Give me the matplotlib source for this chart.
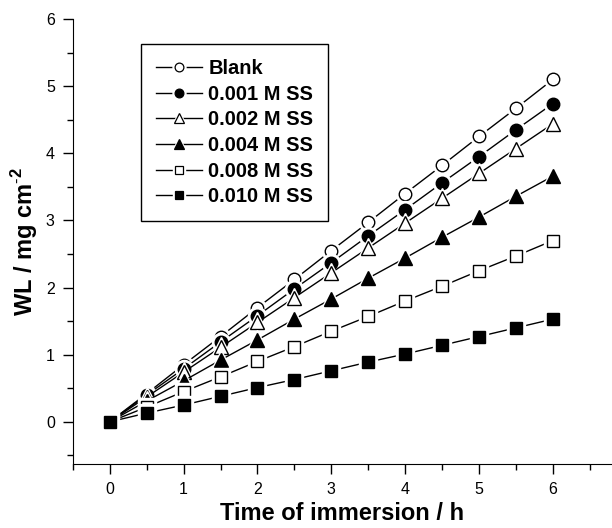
import numpy as np
import matplotlib
matplotlib.use('Agg')
import matplotlib.pyplot as plt
from matplotlib.lines import Line2D
from matplotlib.legend_handler import HandlerTuple
from matplotlib.ticker import MultipleLocator

plt.rcParams['font.family'] = ['Liberation Sans', 'DejaVu Sans']
plt.rcParams['mathtext.fontset'] = 'custom'
plt.rcParams['mathtext.rm'] = 'Liberation Sans'
plt.rcParams['mathtext.bf'] = 'Liberation Sans:bold'

# time of immersion (h)
hours = [0, 0.5, 1, 1.5, 2, 2.5, 3, 3.5, 4, 4.5, 5, 5.5, 6]

# weight loss (mg cm-2)
blank  = [0, 0.42, 0.85, 1.27, 1.70, 2.12, 2.55, 2.97, 3.40, 3.82, 4.25, 4.67, 5.10]
ss_001 = [0, 0.40, 0.79, 1.19, 1.58, 1.98, 2.37, 2.77, 3.16, 3.56, 3.95, 4.35, 4.74]
ss_002 = [0, 0.37, 0.74, 1.11, 1.48, 1.85, 2.22, 2.59, 2.96, 3.33, 3.70, 4.07, 4.44]
ss_004 = [0, 0.31, 0.61, 0.92, 1.22, 1.53, 1.83, 2.14, 2.44, 2.75, 3.05, 3.36, 3.66]
ss_008 = [0, 0.22, 0.45, 0.67, 0.90, 1.12, 1.35, 1.57, 1.80, 2.02, 2.25, 2.47, 2.70]
ss_010 = [0, 0.13, 0.25, 0.38, 0.51, 0.63, 0.76, 0.89, 1.01, 1.14, 1.27, 1.40, 1.53]

labels = ['Blank', '0.001 M SS', '0.002 M SS', '0.004 M SS', '0.008 M SS', '0.010 M SS']
series = [blank, ss_001, ss_002, ss_004, ss_008, ss_010]
markers = ['o', 'o', '^', '^', 's', 's']
fills = ['white', 'black', 'white', 'black', 'white', 'black']
sizes = [9, 9, 10, 10, 8.5, 8.5]

fig = plt.figure(figsize=(6.12, 5.28), dpi=100)
ax = fig.add_axes([0.119, 0.121, 0.881, 0.843])

handles = []
for i in range(len(series)):
	z = 2 + i
	ax.plot(hours, series[i], color='black', lw=1, zorder=z)
	ax.plot(hours, series[i], ls='none', marker=markers[i], ms=sizes[i] + 4,
		mfc='white', mec='white', zorder=z + 0.1)
	ax.plot(hours, series[i], ls='none', marker=markers[i], ms=sizes[i],
		mfc=fills[i], mec='black', mew=1, zorder=z + 0.2)
	h_line = Line2D([], [], color='black', lw=1)
	h_halo = Line2D([], [], ls='none', marker=markers[i], ms=sizes[i] * 0.7 + 3,
		mfc='white', mec='white')
	h_mark = Line2D([], [], ls='none', marker=markers[i], ms=sizes[i] * 0.7,
		mfc=fills[i], mec='black', mew=0.9)
	handles.append((h_line, h_halo, h_mark))

ax.set_xlim(-0.5, 6.8)
ax.set_ylim(-0.63, 6)
ax.xaxis.set_minor_locator(MultipleLocator(0.5))
ax.yaxis.set_minor_locator(MultipleLocator(0.5))
ax.set_xticks([0, 1, 2, 3, 4, 5, 6])
ax.set_yticks([0, 1, 2, 3, 4, 5, 6])
ax.spines['top'].set_visible(False)
ax.spines['right'].set_visible(False)
ax.tick_params(which='major', direction='out', length=7.5, width=1, labelsize=11.5, pad=5.5)
ax.tick_params(which='minor', direction='out', length=4, width=1)

ax.set_xlabel('Time of immersion / h', fontsize=17, fontweight='bold', labelpad=3.5)
ax.set_ylabel('WL / mg cm$^{\\mathbf{\\text{-}2}}$', fontsize=17, fontweight='bold', labelpad=4)

leg = ax.legend(handles, labels, handler_map={tuple: HandlerTuple(ndivide=1)},
	loc='upper left', bbox_to_anchor=(0.126, 0.944), borderaxespad=0,
	fancybox=False, edgecolor='black', framealpha=1, handlelength=2.3,
	handletextpad=0.3, labelspacing=0.33, borderpad=0.75,
	prop={'weight': 'bold', 'size': 14.5})
leg.get_frame().set_linewidth(1)

plt.savefig('out.png', dpi=100)
